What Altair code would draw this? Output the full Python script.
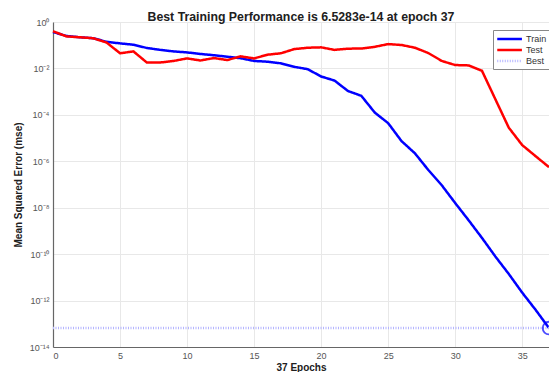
import altair as alt
import pandas as pd

epochs = list(range(38))
train_mse = [3.7e-1, 2.5e-1, 2.2e-1, 2.0e-1, 1.4e-1, 1.2e-1, 1.05e-1, 7.6e-2, 6.3e-2, 5.4e-2,
             4.9e-2, 4.2e-2, 3.7e-2, 3.2e-2, 2.75e-2, 2.1e-2, 1.95e-2, 1.66e-2, 1.17e-2, 9.3e-3,
             4.5e-3, 3.0e-3, 1.07e-3, 6.6e-4, 1.26e-4, 4.4e-5, 7.4e-6, 2.2e-6, 4.2e-7, 9.3e-8,
             1.6e-8, 2.9e-9, 5.0e-10, 7.9e-11, 1.4e-11, 2.2e-12, 4.0e-13, 6.5283e-14]
test_mse = [4.0e-1, 2.4e-1, 2.2e-1, 2.0e-1, 1.3e-1, 4.5e-2, 5.4e-2, 1.8e-2, 1.8e-2, 2.1e-2,
            2.7e-2, 2.2e-2, 2.8e-2, 2.3e-2, 3.3e-2, 2.7e-2, 3.9e-2, 4.5e-2, 6.8e-2, 7.8e-2,
            8.1e-2, 6.3e-2, 7.1e-2, 7.2e-2, 8.5e-2, 1.12e-1, 1.02e-1, 7.8e-2, 4.6e-2, 2.1e-2,
            1.4e-2, 1.35e-2, 7.9e-3, 4.7e-4, 2.8e-5, 5.0e-6, 1.66e-6, 5.6e-7]
best_epoch = 37
best_mse = 6.5283e-14
series_names = ["Train", "Test", "Best"]
series_colors = ["#0000ff", "#ff0000", "#b4b4ff"]
x_ticks = [0, 5, 10, 15, 20, 25, 30, 35]
y_ticks = [1e0, 1e-2, 1e-4, 1e-6, 1e-8, 1e-10, 1e-12, 1e-14]

rows = []
for e, v in zip(epochs, train_mse):
    rows.append({"epoch": e, "mse": v, "series": "Train"})
for e, v in zip(epochs, test_mse):
    rows.append({"epoch": e, "mse": v, "series": "Test"})
for e in [epochs[0], epochs[-1]]:
    rows.append({"epoch": e, "mse": best_mse, "series": "Best"})
df = pd.DataFrame(rows)
best_df = pd.DataFrame({"epoch": [best_epoch], "mse": [best_mse]})

FONT = "Liberation Sans"
exp = "round(log(datum.value)/LN10)"
label_expr = ("'10' + (" + exp + " < 0 ? '⁻' : '') + (abs(" + exp + ") >= 10 ? '¹' : '') + "
              "['⁰','¹','²','³','⁴','⁵','⁶','⁷','⁸','⁹'][abs(" + exp + ") % 10]")

x_enc = alt.X("epoch:Q", scale=alt.Scale(domain=[0, 37], nice=False),
              axis=alt.Axis(values=x_ticks, title="37 Epochs", grid=True))
y_enc = alt.Y("mse:Q", scale=alt.Scale(type="log", domain=[1e-14, 1], nice=False),
              axis=alt.Axis(values=y_ticks, labelExpr=label_expr,
                            title="Mean Squared Error  (mse)", grid=True))

leg = dict(title=None, orient="none", legendX=440, legendY=8)
lines = alt.Chart(df).mark_line().encode(
    x=x_enc,
    y=y_enc,
    color=alt.Color("series:N", scale=alt.Scale(domain=series_names, range=series_colors),
                    legend=alt.Legend(**leg)),
    strokeDash=alt.StrokeDash("series:N",
                              scale=alt.Scale(domain=series_names, range=[[1, 0], [1, 0], [1, 1.5]]),
                              legend=alt.Legend(**leg)),
    strokeWidth=alt.StrokeWidth("series:N",
                                scale=alt.Scale(domain=series_names, range=[2.5, 2.5, 0.8]),
                                legend=alt.Legend(**leg)),
    detail="series:N",
)

best_pt = alt.Chart(best_df).mark_point(shape="circle", filled=False, color="#0000ff",
                                        size=160, strokeWidth=1.8).encode(
    x=alt.X("epoch:Q"), y=alt.Y("mse:Q"))

chart = alt.layer(lines, best_pt).properties(
    width=496, height=325,
    autosize=alt.AutoSizeParams(type="none"),
    padding={"left": 45, "top": 14, "right": 0, "bottom": 25},
    title=alt.TitleParams("Best Training Performance is 6.5283e-14 at epoch 37",
                          font=FONT, fontSize=12.3, fontWeight="bold", color="#202020",
                          anchor="middle", frame="group", offset=-5),
).configure_view(stroke=None).configure_axis(
    labelFont=FONT, titleFont=FONT, labelFontSize=9, labelColor="#555555",
    titleFontSize=10, titleFontWeight="bold", titleColor="#202020",
    gridColor="#e8e8e8", gridWidth=1, domainColor="#666666", domainWidth=1.2,
    ticks=False, labelPadding=4,
).configure_axisY(titlePadding=6).configure_axisX(titlePadding=2).configure_legend(
    labelFont=FONT, labelFontSize=9, labelColor="#333333", symbolType="M-1,0H4.2",
    symbolSize=90, fillColor="white", strokeColor="#888888",
    padding=3, rowPadding=0, labelOffset=18,
)

chart.save("out.html", embed_options={"renderer": "svg", "actions": False})
